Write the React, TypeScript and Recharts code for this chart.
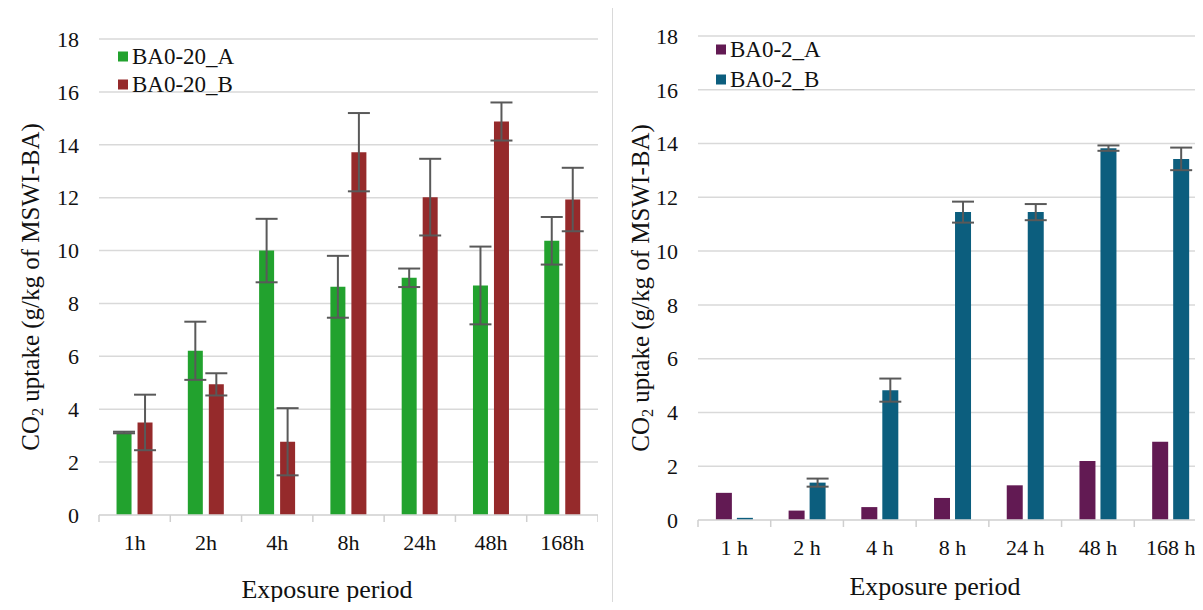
import { BarChart, Bar, XAxis, YAxis, CartesianGrid, ErrorBar } from 'recharts';

// Exposure periods (two panels label them slightly differently)
const PERIODS_20 = ['1h', '2h', '4h', '8h', '24h', '48h', '168h'];
const PERIODS_2 = ['1 h', '2 h', '4 h', '8 h', '24 h', '48 h', '168 h'];

// CO2 uptake, g/kg of MSWI-BA
const BA20_A = [3.12, 6.21, 10.0, 8.63, 8.97, 8.68, 10.37];
const BA20_A_ERR = [0.03, 1.1, 1.2, 1.17, 0.35, 1.47, 0.9];
const BA20_B = [3.5, 4.94, 2.77, 13.72, 12.02, 14.88, 11.93];
const BA20_B_ERR = [1.05, 0.42, 1.27, 1.48, 1.45, 0.72, 1.2];

const BA2_A = [1.01, 0.35, 0.48, 0.82, 1.29, 2.19, 2.91];
const BA2_B = [0.08, 1.39, 4.83, 11.45, 11.45, 13.83, 13.43];
const BA2_B_ERR = [0, 0.15, 0.43, 0.39, 0.3, 0.1, 0.42];

const Y_TICKS = [0, 2, 4, 6, 8, 10, 12, 14, 16, 18];

const FONT = '"Liberation Serif", "DejaVu Serif", serif';
const GRID = '#d9d9d9';
const ERR = '#595959';
const TEXT = '#111';
const TICK_MARGIN = 19;

const rows20 = PERIODS_20.map((p, i) => ({
  period: p,
  a: BA20_A[i],
  aErr: BA20_A_ERR[i],
  b: BA20_B[i],
  bErr: BA20_B_ERR[i],
}));

const rows2 = PERIODS_2.map((p, i) => ({
  period: p,
  a: BA2_A[i],
  b: BA2_B[i],
  bErr: BA2_B_ERR[i],
}));

interface SeriesDef {
  key: string;
  errKey?: string;
  name: string;
  color: string;
}

const SERIES_20: SeriesDef[] = [
  { key: 'a', errKey: 'aErr', name: 'BA0-20_A', color: '#22a22e' },
  { key: 'b', errKey: 'bErr', name: 'BA0-20_B', color: '#952a2b' },
];

const SERIES_2: SeriesDef[] = [
  { key: 'a', name: 'BA0-2_A', color: '#621a53' },
  { key: 'b', errKey: 'bErr', name: 'BA0-2_B', color: '#0c5e7e' },
];

// category label plus Excel-style tick marks between the categories
function CategoryTick(props: any) {
  const { x, y, payload, index, visibleTicksCount } = props;
  const half = payload?.offset ?? 0;
  const axisY = y - TICK_MARGIN;
  const isLast = index === visibleTicksCount - 1;
  return (
    <g>
      {half > 0 && <line x1={x - half} x2={x - half} y1={axisY} y2={axisY + 7} stroke="#cfcfcf" strokeWidth={1.5} />}
      {half > 0 && isLast && (
        <line x1={x + half} x2={x + half} y1={axisY} y2={axisY + 7} stroke="#cfcfcf" strokeWidth={1.5} />
      )}
      <text x={x} y={y} dy="0.71em" textAnchor="middle" fontSize={22} fill={TEXT} fontFamily={FONT}>
        {payload.value}
      </text>
    </g>
  );
}

interface PanelProps {
  left: number;
  width: number;
  top: number;
  bottom: number;
  yAxisWidth: number;
  barGap: number;
  rows: Record<string, any>[];
  series: SeriesDef[];
  legend: { x: number; y: number; step: number };
  yTitle: { x: number; y: number };
  xTitle: { x: number; y: number };
}

function Panel({ left, width, top, bottom, yAxisWidth, barGap, rows, series, legend, yTitle, xTitle }: PanelProps) {
  return (
    <>
      <div style={{ position: 'absolute', left, top: 0 }}>
        <BarChart
          width={width}
          height={610}
          data={rows}
          margin={{ top, right: 0, left: 0, bottom: 610 - bottom - 60 }}
          barCategoryGap="24.6%"
          barGap={barGap}
        >
          <CartesianGrid vertical={false} stroke={GRID} strokeWidth={1.5} />
          <XAxis
            dataKey="period"
            axisLine={{ stroke: GRID, strokeWidth: 1.5 }}
            tickLine={false}
            tickSize={0}
            tickMargin={TICK_MARGIN}
            height={60}
            interval={0}
            tick={<CategoryTick />}
          />
          <YAxis
            domain={[0, 18]}
            ticks={Y_TICKS}
            width={yAxisWidth}
            axisLine={false}
            tickLine={false}
            tickSize={0}
            tickMargin={20}
            tick={{ fontSize: 22, fill: TEXT, fontFamily: FONT }}
          />
          {series.map((s) => (
            <Bar key={s.key} dataKey={s.key} fill={s.color} isAnimationActive={false}>
              {s.errKey && (
                <ErrorBar dataKey={s.errKey} width={11} stroke={ERR} strokeWidth={2} direction="y" />
              )}
            </Bar>
          ))}
        </BarChart>
      </div>

      {series.map((s, i) => (
        <div
          key={s.name}
          style={{
            position: 'absolute',
            left: legend.x,
            top: legend.y + i * legend.step,
            transform: 'translateY(-50%)',
            display: 'flex',
            alignItems: 'center',
            fontSize: 23,
            lineHeight: 1,
            color: TEXT,
            whiteSpace: 'nowrap',
          }}
        >
          <span style={{ width: 10, height: 10, background: s.color, marginRight: 4, display: 'inline-block' }} />
          {s.name}
        </div>
      ))}

      <div
        style={{
          position: 'absolute',
          left: yTitle.x,
          top: yTitle.y,
          transform: 'translate(-50%, -50%) rotate(-90deg)',
          fontSize: 25,
          lineHeight: 1,
          whiteSpace: 'nowrap',
          color: TEXT,
        }}
      >
        CO<sub style={{ fontSize: '0.65em', verticalAlign: '-0.25em', lineHeight: 0 }}>2</sub> uptake (g/kg of MSWI-BA)
      </div>

      <div
        style={{
          position: 'absolute',
          left: xTitle.x,
          top: xTitle.y,
          transform: 'translate(-50%, -50%)',
          fontSize: 26,
          lineHeight: 1,
          whiteSpace: 'nowrap',
          color: TEXT,
        }}
      >
        Exposure period
      </div>
    </>
  );
}

export default function App() {
  return (
    <div
      style={{
        position: 'relative',
        width: 1203,
        height: 610,
        margin: -8,
        overflow: 'hidden',
        background: '#fff',
        fontFamily: FONT,
      }}
    >
      <div style={styles.leftFrame} />
      <div style={styles.rightFrame} />
      <Panel
        left={0}
        width={598}
        top={39}
        bottom={515}
        yAxisWidth={99}
        barGap={6}
        rows={rows20}
        series={SERIES_20}
        legend={{ x: 118, y: 56, step: 28 }}
        yTitle={{ x: 30, y: 287 }}
        xTitle={{ x: 327, y: 590 }}
      />
      <Panel
        left={600}
        width={607}
        top={36}
        bottom={520}
        yAxisWidth={98}
        barGap={5}
        rows={rows2}
        series={SERIES_2}
        legend={{ x: 716, y: 49, step: 30 }}
        yTitle={{ x: 640, y: 288 }}
        xTitle={{ x: 935, y: 587 }}
      />
    </div>
  );
}

const styles: Record<string, React.CSSProperties> = {
  leftFrame: {
    position: 'absolute',
    left: 6,
    top: 5,
    width: 592,
    height: 602,
    borderTop: `1.5px solid ${GRID}`,
    borderLeft: `1.5px solid ${GRID}`,
    borderBottom: `1.5px solid ${GRID}`,
  },
  rightFrame: {
    position: 'absolute',
    left: 612,
    top: 5,
    width: 620,
    height: 602,
    border: `1.5px solid ${GRID}`,
  },
};
